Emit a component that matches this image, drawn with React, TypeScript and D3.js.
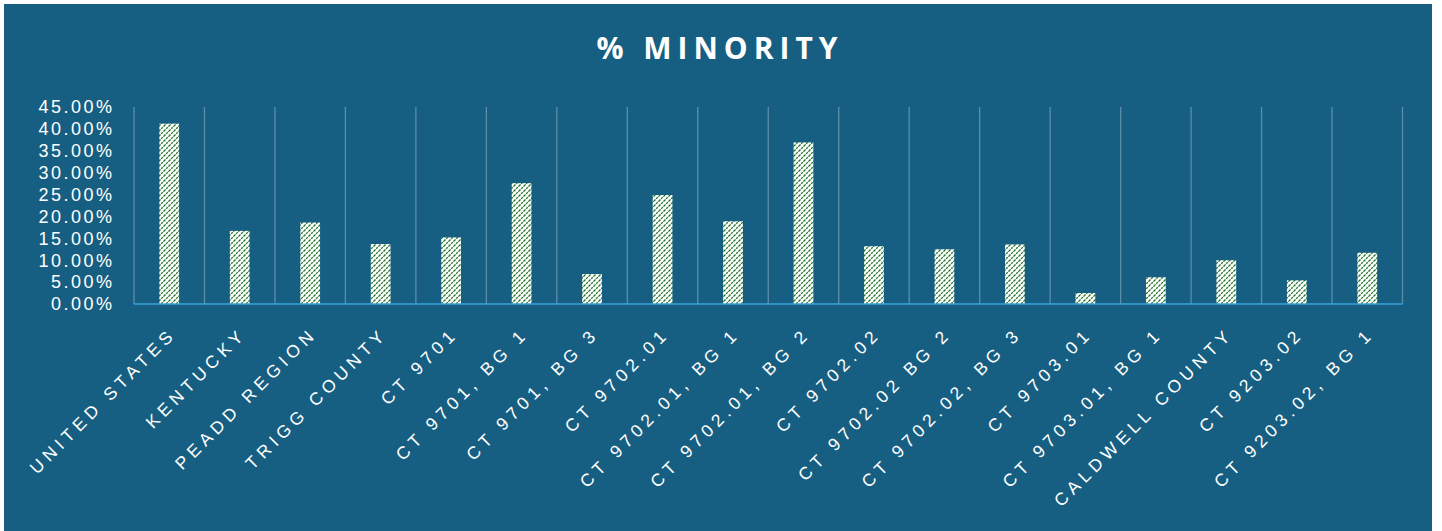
import React from 'react';
import * as d3 from 'd3';

const categories = [
  'UNITED STATES', 'KENTUCKY', 'PEADD REGION', 'TRIGG COUNTY', 'CT 9701',
  'CT 9701, BG 1', 'CT 9701, BG 3', 'CT 9702.01', 'CT 9702.01, BG 1',
  'CT 9702.01, BG 2', 'CT 9702.02', 'CT 9702.02 BG 2', 'CT 9702.02, BG 3',
  'CT 9703.01', 'CT 9703.01, BG 1', 'CALDWELL COUNTY', 'CT 9203.02', 'CT 9203.02, BG 1',
];
const minority = [
  0.412, 0.167, 0.186, 0.137, 0.152, 0.276, 0.0685, 0.249, 0.189,
  0.369, 0.132, 0.125, 0.136, 0.025, 0.061, 0.100, 0.054, 0.117,
];
const yTicks = [0, 0.05, 0.1, 0.15, 0.2, 0.25, 0.3, 0.35, 0.4, 0.45];

const W = 1442, H = 531;
const BG = '#175F82';

export default function App() {
  const x = d3.scaleBand<string>().domain(categories).range([134, 1402.5]).padding(0);
  const y = d3.scaleLinear().domain([0, 0.45]).range([304, 107]);
  const fmt = d3.format('.2%');
  const barW = x.bandwidth() * 0.28;
  const gridXs = categories.map(c => x(c)!).concat([x.range()[1]]);
  const labelLs = 4.8;

  return (
    <svg width={W} height={H} style={{ position: 'absolute', left: 0, top: 0 }}
      fontFamily="'Liberation Sans', Arial, sans-serif">
      <defs>
        <pattern id="hatch" patternUnits="userSpaceOnUse" width="5" height="5">
          <rect width="5" height="5" fill="#ffffff" />
          <path d="M-1,6 L6,-1 M-1,1 L1,-1 M4,6 L6,4" stroke="#1f7326" strokeWidth="1.25"
            strokeDasharray="2.2 0.9" />
        </pattern>
      </defs>
      <rect x={0} y={0} width={W} height={H} fill="#ffffff" />
      <rect x={4} y={4} width={1428} height={H - 4} fill={BG} />

      <text x={717 + 3} y={59} textAnchor="middle" fill="#ffffff" fontSize={30}
        fontWeight="bold" letterSpacing={6} fontFamily="'Open Sans', 'Liberation Sans', sans-serif">
        % MINORITY
      </text>

      {gridXs.map((gx, i) => (
        <line key={i} x1={gx} x2={gx} y1={y(0.45)} y2={y(0)} stroke="#5B8EAB" strokeWidth={1.3} />
      ))}

      {yTicks.map(t => (
        <text key={t} x={112 + 2.5} y={y(t)} dy="0.35em" textAnchor="end" fill="#ffffff"
          fontSize={18} letterSpacing={2.5}>
          {fmt(t)}
        </text>
      ))}

      {categories.map((c, i) => (
        <rect key={c} x={x(c)! + (x.bandwidth() - barW) / 2} y={y(minority[i])}
          width={barW} height={y(0) - y(minority[i])} fill="url(#hatch)" />
      ))}

      <line x1={x.range()[0]} x2={x.range()[1]} y1={y(0)} y2={y(0)} stroke="#3AA3DA" strokeWidth={1.5} />

      {categories.map(c => {
        const cx = x(c)! + x.bandwidth() / 2 + 3 + labelLs;
        const cy = 335;
        return (
          <text key={c} x={cx} y={cy} textAnchor="end" fill="#ffffff" fontSize={17.5}
            letterSpacing={labelLs} transform={`rotate(-45 ${cx} ${cy})`}>
            {c}
          </text>
        );
      })}
    </svg>
  );
}
